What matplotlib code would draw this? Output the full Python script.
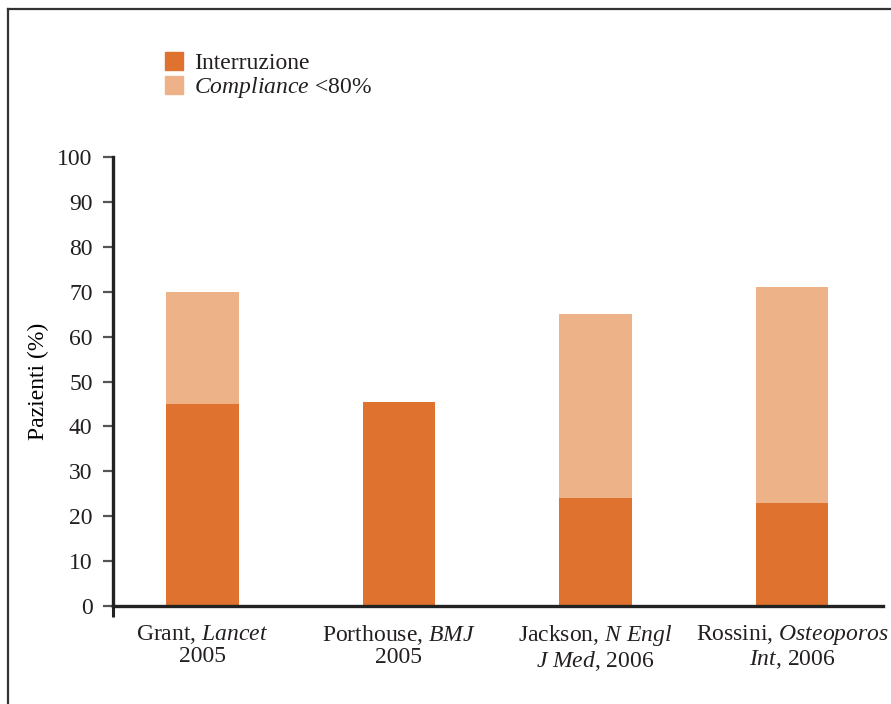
import matplotlib
matplotlib.use("Agg")
import matplotlib.pyplot as plt
from matplotlib.patches import Patch
from matplotlib.lines import Line2D
import numpy as np

# Data
studies = [
    "Grant, $\\mathit{Lancet}$\n2005",
    "Porthouse, $\\mathit{BMJ}$\n2005",
    "Jackson, $\\mathit{N\\ Engl}$\n$\\mathit{J\\ Med}$, 2006",
    "Rossini, $\\mathit{Osteoporos}$\n$\\mathit{Int}$, 2006",
]
interruzione = [45, 45.5, 24, 23]
compliance_total = [70, 0, 65, 71]   # top of the stacked bar (0 = not reported)
compliance = [max(t - i, 0) if t > 0 else 0 for t, i in zip(compliance_total, interruzione)]
yticks = list(range(0, 101, 10))

DARK = "#E07230"
LIGHT = "#EDB287"
INK = "#231F20"

plt.rcParams["font.family"] = ["Liberation Serif", "DejaVu Serif"]
plt.rcParams["mathtext.fontset"] = "custom"
plt.rcParams["mathtext.rm"] = "Liberation Serif"
plt.rcParams["mathtext.it"] = "Liberation Serif:italic"
plt.rcParams["text.color"] = INK
FS = 17

fig = plt.figure(figsize=(8.91, 7.04), dpi=100)
W, H = 891, 704
ax = fig.add_axes([113 / W, 1 - 606 / H, (883 - 113) / W, (606 - 157) / H])

x = np.arange(len(studies))
bw = 0.37
ax.bar(x, interruzione, width=bw, color=DARK, label="Interruzione", zorder=2)
ax.bar(x, compliance, width=bw, bottom=interruzione, color=LIGHT,
       label="$\\mathit{Compliance}$ <80%", zorder=2)

ax.set_xlim(-0.455, 3.463)
ax.set_ylim(0, 100)
ax.set_yticks(yticks)
ax.set_xticks(x)
ax.set_xticklabels(studies, fontsize=FS, linespacing=1.05)
ax.tick_params(axis="x", length=0, pad=12, colors=INK)
ax.tick_params(axis="y", length=7.2, width=1.6, pad=7.5, colors="#555555",
               labelcolor=INK, labelsize=FS)
# small downward tick at the origin so the y-axis appears to continue below zero
ax.set_xticks([-0.455], minor=True)
ax.tick_params(axis="x", which="minor", length=8, width=2.2, color="#222222")

for s in ("top", "right"):
    ax.spines[s].set_visible(False)
for s in ("left", "bottom"):
    ax.spines[s].set_linewidth(2.4)
    ax.spines[s].set_color("#222222")

ax.set_ylabel("Pazienti (%)", fontsize=FS, labelpad=6)

handles = [Patch(color=DARK), Patch(color=LIGHT)]
labels = ["Interruzione", "$\\mathit{Compliance}$ <80%"]
fig.legend(handles, labels, loc="upper left",
           bbox_to_anchor=(146 / W, 1 - 33 / H), frameon=False,
           fontsize=FS, handlelength=0.78, handleheight=0.78,
           handletextpad=0.45, labelspacing=0.04, borderpad=0.3)

# outer frame (top and left edges)
fig.add_artist(Line2D([8 / W, 1.0], [1 - 9 / H, 1 - 9 / H], transform=fig.transFigure,
                      color="#333333", linewidth=1.6))
fig.add_artist(Line2D([8 / W, 8 / W], [0.0, 1 - 9 / H], transform=fig.transFigure,
                      color="#333333", linewidth=1.6))

fig.savefig("out.png", dpi=100, facecolor="white")
